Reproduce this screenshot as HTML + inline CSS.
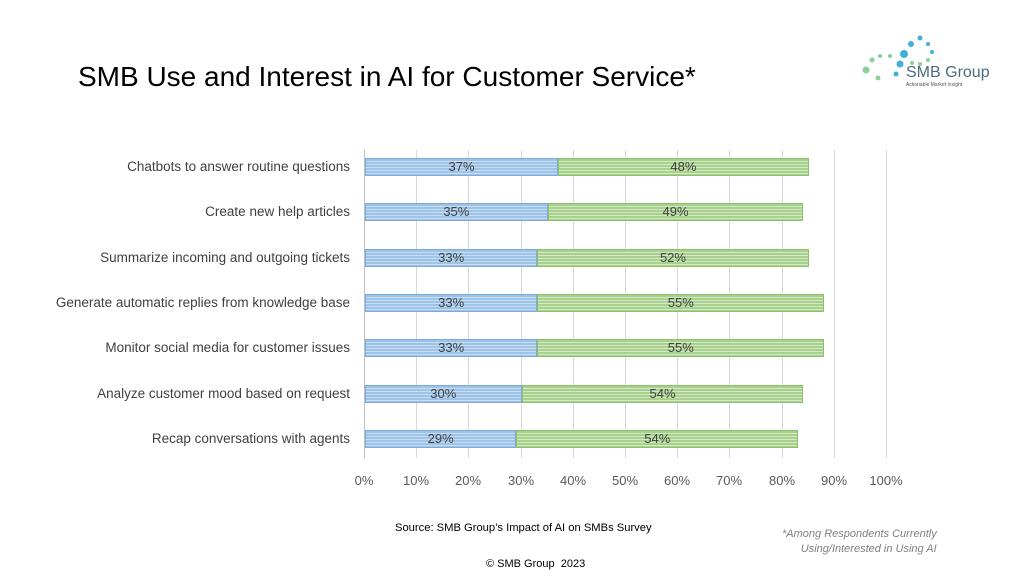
<!DOCTYPE html>
<html><head><style>
body{margin:0;width:1024px;height:576px;background:#fff;position:relative;font-family:"Liberation Sans",sans-serif;overflow:hidden}
.t{position:absolute;white-space:nowrap}
.b{position:absolute;height:18px;box-sizing:border-box}
.bl{background:repeating-linear-gradient(180deg,#9dc3e6 0 2px,#c9ddf2 2px 3px);border:1px solid #7ea9da}
.gr{background:repeating-linear-gradient(180deg,#a9d18e 0 2px,#d3e8c4 2px 3px);border:1px solid #8cc06a}
.v{position:absolute;font-size:13px;color:#404040;text-align:center;line-height:18px}
.lab{position:absolute;right:674px;font-size:13.5px;color:#404040;white-space:nowrap;line-height:18px}
.g{position:absolute;top:150px;height:308px;width:1px;background:#d9d9d9}
.tk{position:absolute;top:473px;font-size:13px;color:#595959;width:40px;text-align:center}
</style></head><body>
<div class="t" style="left:78px;top:61px;font-size:28px;color:#000">SMB Use and Interest in AI for Customer Service*</div>
<svg style="position:absolute;left:858px;top:30px" width="140" height="60">
<g fill="#3fb0d8"><circle cx="53" cy="14" r="3"/><circle cx="62" cy="8" r="2.5"/><circle cx="46" cy="24" r="4"/><circle cx="42" cy="34" r="3.5"/><circle cx="38" cy="44" r="2.5"/><circle cx="70" cy="14" r="2"/><circle cx="74" cy="22" r="2"/></g>
<g fill="#8dcf9a"><circle cx="8" cy="40" r="3.5"/><circle cx="14" cy="30" r="2.5"/><circle cx="22" cy="26" r="2"/><circle cx="32" cy="26" r="2"/><circle cx="20" cy="48" r="2.5"/><circle cx="54" cy="33" r="2"/><circle cx="62" cy="34" r="2"/><circle cx="70" cy="30" r="2"/></g>
<text x="48" y="47" font-family="Liberation Sans" font-size="16" fill="#4a6b7d">SMB Group</text>
<text x="48" y="56" font-family="Liberation Sans" font-size="5" fill="#555">Actionable Market Insight</text>
</svg>
<div class="g" style="left:364px;background:#bfbfbf"></div>
<div class="g" style="left:416px"></div><div class="g" style="left:468px"></div><div class="g" style="left:521px"></div><div class="g" style="left:573px"></div><div class="g" style="left:625px"></div><div class="g" style="left:677px"></div><div class="g" style="left:729px"></div><div class="g" style="left:782px"></div><div class="g" style="left:834px"></div><div class="g" style="left:886px"></div>
<div class="tk" style="left:344px">0%</div><div class="tk" style="left:396px">10%</div><div class="tk" style="left:448px">20%</div><div class="tk" style="left:501px">30%</div><div class="tk" style="left:553px">40%</div><div class="tk" style="left:605px">50%</div><div class="tk" style="left:657px">60%</div><div class="tk" style="left:709px">70%</div><div class="tk" style="left:762px">80%</div><div class="tk" style="left:814px">90%</div><div class="tk" style="left:866px">100%</div>
<div id="bars"></div>
<script>
var d=[["Chatbots to answer routine questions",37,48],["Create new help articles",35,49],["Summarize incoming and outgoing tickets",33,52],["Generate automatic replies from knowledge base",33,55],["Monitor social media for customer issues",33,55],["Analyze customer mood based on request",30,54],["Recap conversations with agents",29,54]];
var h="",s=5.22;
d.forEach(function(r,i){var y=158+i*45.3,a=r[1]*s,b=r[2]*s;
h+='<div class="lab" style="top:'+y+'px">'+r[0]+'</div>';
h+='<div class="b bl" style="left:365px;top:'+y+'px;width:'+a+'px"></div>';
h+='<div class="b gr" style="left:'+(365+a)+'px;top:'+y+'px;width:'+b+'px"></div>';
h+='<div class="v" style="left:365px;top:'+y+'px;width:'+a+'px">'+r[1]+'%</div>';
h+='<div class="v" style="left:'+(365+a)+'px;top:'+y+'px;width:'+b+'px">'+r[2]+'%</div>';});
document.getElementById("bars").innerHTML=h;
</script>
<div class="t" style="left:395px;top:522px;font-size:11.2px;color:#000">Source: SMB Group’s Impact of AI on SMBs Survey</div>
<div class="t" style="left:782px;top:527px;font-size:11px;color:#808080;font-style:italic;text-align:right;line-height:15px">*Among Respondents Currently<br><span style="padding-left:8px">Using/Interested in Using AI</span></div>
<div class="t" style="left:486px;top:558px;font-size:11px;color:#000">© SMB Group&nbsp; 2023</div>
</body></html>
